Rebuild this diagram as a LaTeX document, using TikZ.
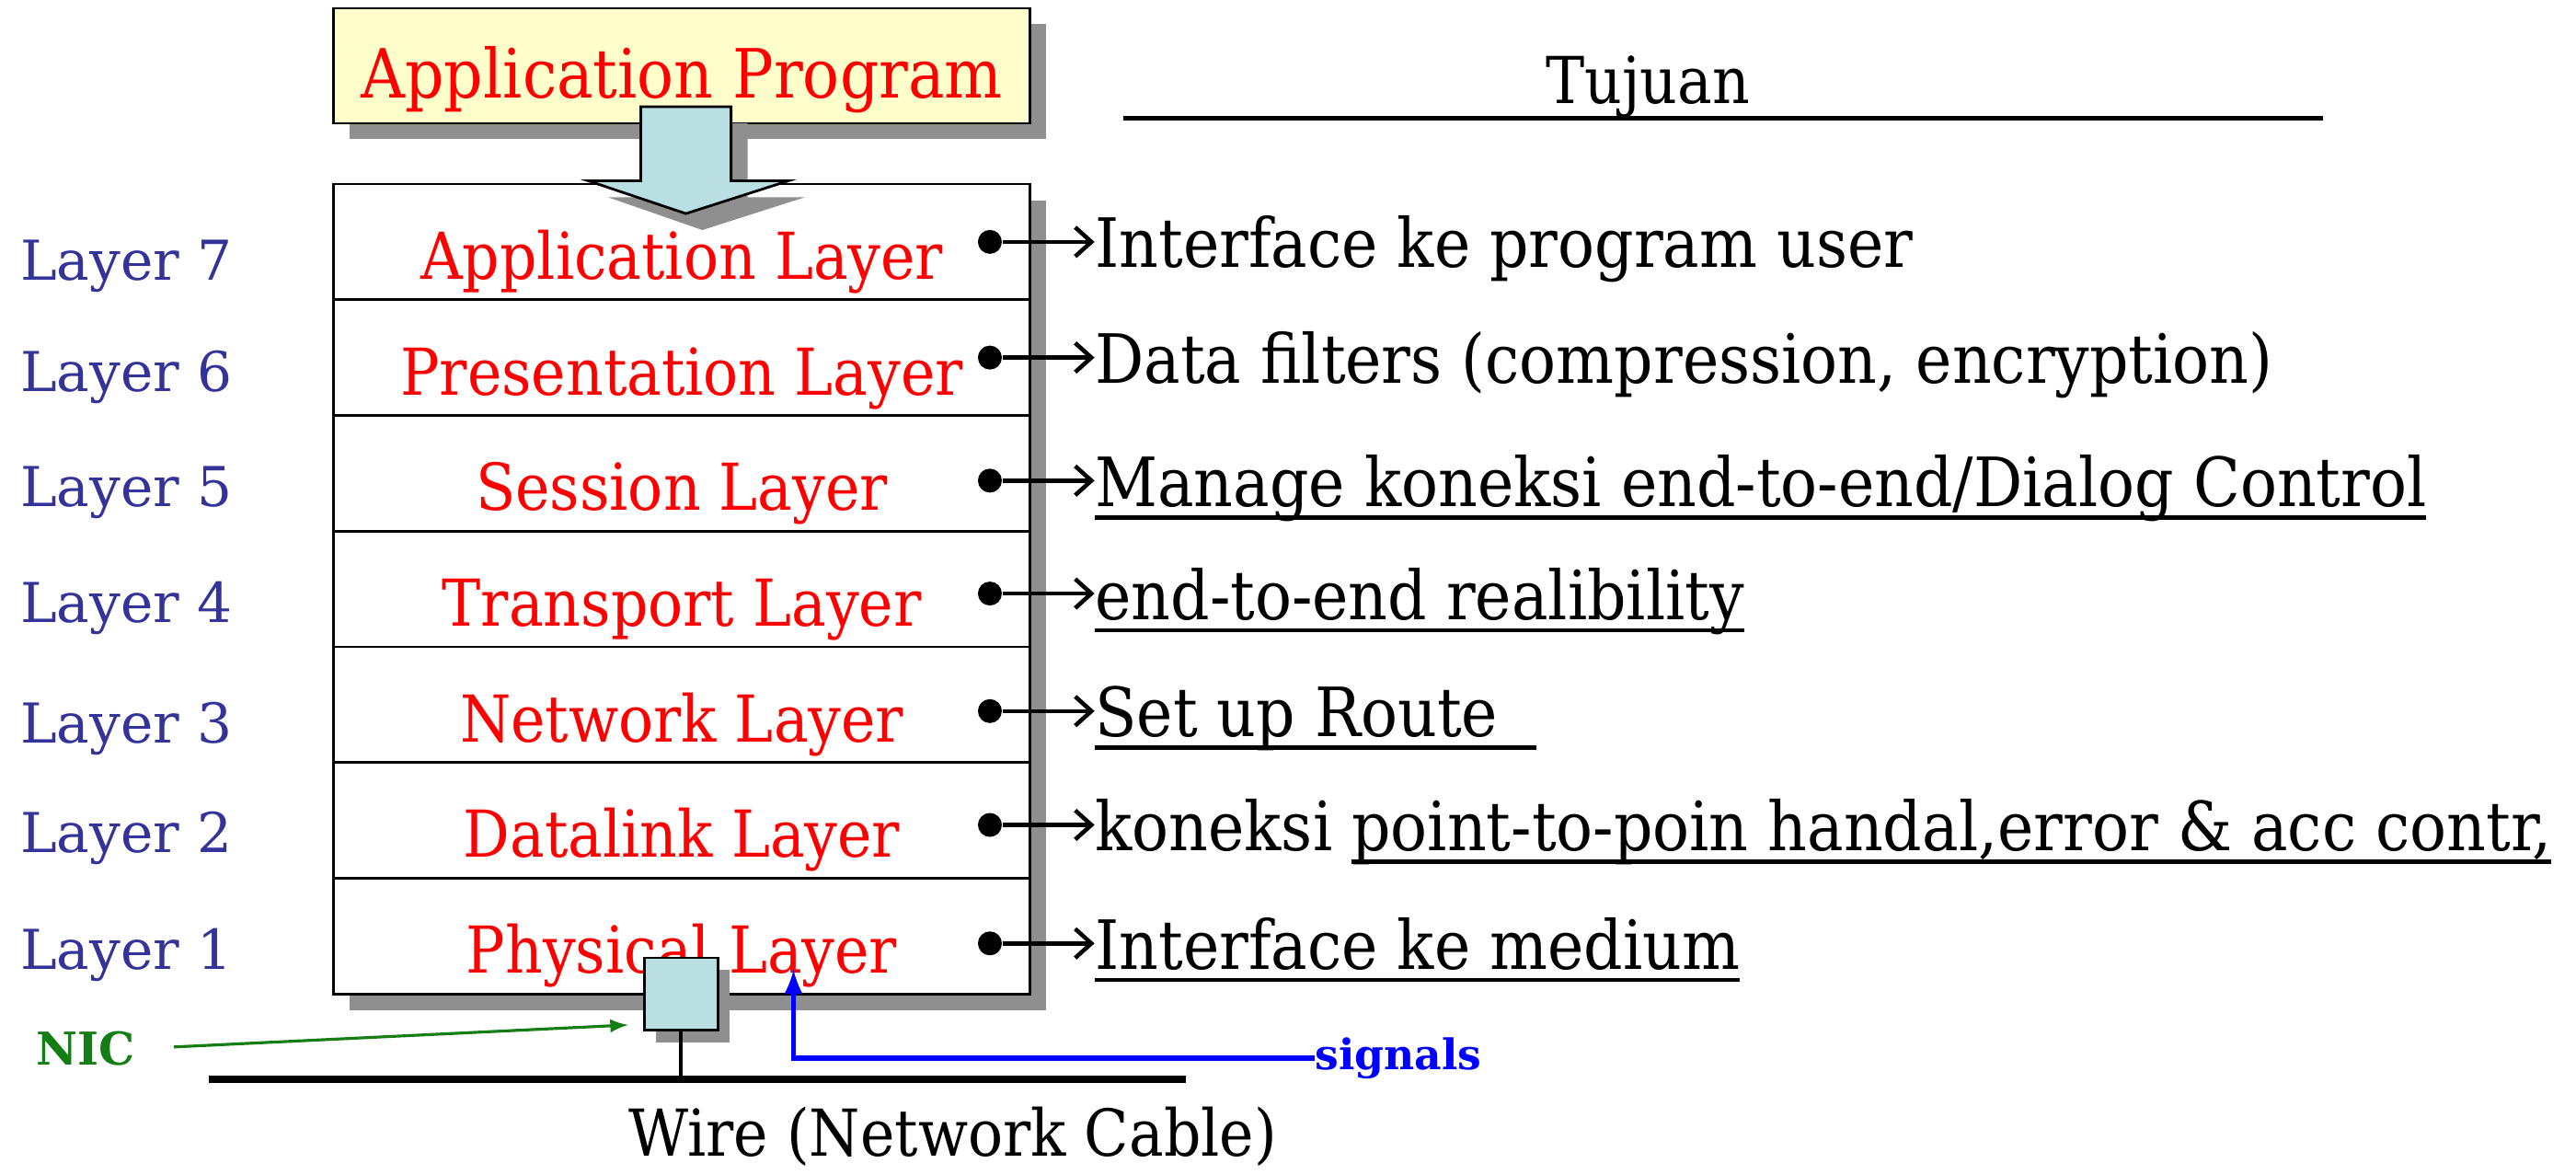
\documentclass[tikz,border=0pt]{standalone}
\usepackage{fontspec}
\setmainfont{DejaVu Serif Condensed}
\newfontfamily\lblfont{DejaVu Serif}
\usetikzlibrary{arrows, arrows.meta, shadows, positioning}

\definecolor{appyellow}{RGB}{255,255,204}
\definecolor{nicblue}{RGB}{185,223,227}
\definecolor{layerblue}{RGB}{51,51,153}
\definecolor{shadowgray}{RGB}{143,143,143}
\definecolor{nicgreen}{RGB}{20,125,20}

\newcommand{\thickul}[1]{\setbox0=\hbox{#1}\rlap{\rule[-4pt]{\wd0}{1.3pt}}\box0}

\tikzset{
  graybox/.style={drop shadow={shadow xshift=0.175cm, shadow yshift=-0.175cm, fill=shadowgray, opacity=1}},
  layerbox/.style={graybox, draw, line width=0.8pt, fill=white, minimum width=7.57cm, minimum height=1.257cm,
    outer sep=0pt, inner sep=0pt, text=red, font=\fontsize{20}{24}\selectfont, text height=23pt, text depth=0pt},
  layerlbl/.style={anchor=west, inner sep=0pt, text=layerblue, font=\lblfont\fontsize{17}{20}\selectfont, text height=18pt, text depth=0pt},
  dot/.style={circle, fill=black, inner sep=0pt, minimum width=0.26cm},
  desc/.style={anchor=west, inner sep=0pt, font=\fontsize{21}{25}\selectfont, text height=16pt, text depth=0pt},
  link/.style={-{Straight Barb[length=5pt, width=9pt]}, line width=1.3pt}
}

\begin{document}
\begin{tikzpicture}[x=0.017857cm, y=-0.017857cm]
  \useasboundingbox (0,0) rectangle (1568,715);

  % program on top
  \node[graybox, draw, line width=0.8pt, fill=appyellow, minimum width=7.57cm, minimum height=1.25cm, text=red,
    font=\fontsize{21}{25}\selectfont, text height=20pt, text depth=0pt] (app) at (415,40) {Application Program};

  % the seven layers
  \node[layerbox] (l7) at (415,147.2) {Application Layer};
  \node[layerbox, below=0pt of l7] (l6) {Presentation Layer};
  \node[layerbox, below=0pt of l6] (l5) {Session Layer};
  \node[layerbox, below=0pt of l5] (l4) {Transport Layer};
  \node[layerbox, below=0pt of l4] (l3) {Network Layer};
  \node[layerbox, below=0pt of l3] (l2) {Datalink Layer};
  \node[layerbox, below=0pt of l2] (l1) {Physical Layer};

  % big arrow from program into the stack
  \fill[shadowgray] (400,75) -- (455,75) -- (455,120) -- (490,120) -- (427.5,140) -- (370,120) -- (400,120) -- cycle;
  \draw[fill=nicblue, line width=0.8pt] (390,65) -- (445,65) -- (445,110) -- (480,110) -- (417.5,130) -- (358,110) -- (390,110) -- cycle;

  % layer numbers
  \coordinate (lx) at (12,0);
  \node[layerlbl] (n7) at ([yshift=-0.1cm]l7 -| lx) {Layer 7};
  \node[layerlbl] (n6) at ([yshift=-0.05cm]l6 -| lx) {Layer 6};
  \node[layerlbl] (n5) at ([yshift=-0.05cm]l5 -| lx) {Layer 5};
  \node[layerlbl] (n4) at ([yshift=-0.05cm]l4 -| lx) {Layer 4};
  \node[layerlbl] (n3) at ([yshift=-0.1cm]l3 -| lx) {Layer 3};
  \node[layerlbl] (n2) at ([yshift=-0.03cm]l2 -| lx) {Layer 2};
  \node[layerlbl] (n1) at ([yshift=-0.05cm]l1 -| lx) {Layer 1};

  % purpose of each layer
  \node at (1003,53) [font=\fontsize{20}{24}\selectfont] (tujuan) {Tujuan};
  \coordinate (tujL) at (684,72);
  \coordinate (tujR) at (1414,72);
  \draw[line width=1.3pt] (tujL) -- (tujR);

  \node[dot, left=0.3cm of l7.east] (d7) {};
  \node[dot, left=0.3cm of l6.east] (d6) {};
  \node[dot, left=0.3cm of l5.east, yshift=-0.08cm] (d5) {};
  \node[dot, left=0.3cm of l4.east, yshift=-0.05cm] (d4) {};
  \node[dot, left=0.3cm of l3.east, yshift=-0.07cm] (d3) {};
  \node[dot, left=0.3cm of l2.east, yshift=-0.05cm] (d2) {};
  \node[dot, left=0.3cm of l1.east, yshift=-0.08cm] (d1) {};

  \node[desc, right=1.0cm of d7] (t7) {Interface ke program user};
  \node[desc, right=1.0cm of d6] (t6) {Data filters (compression, encryption)};
  \node[desc, right=1.0cm of d5] (t5) {\thickul{Manage koneksi end-to-end/Dialog Control}};
  \node[desc, right=1.0cm of d4] (t4) {\thickul{end-to-end realibility}};
  \node[desc, right=1.0cm of d3] (t3) {\thickul{Set up Route\ \ }};
  \node[desc, right=1.0cm of d2] (t2) {koneksi \thickul{point-to-poin handal,error \& acc contr,}};
  \node[desc, right=1.0cm of d1] (t1) {\thickul{Interface ke medium}};

  \foreach \i in {1,...,7}
    \draw[link] (d\i) -- (t\i);

  % network card and cable
  \node[draw, line width=0.8pt, fill=nicblue, minimum width=0.8cm, minimum height=0.786cm, inner sep=0pt,
    drop shadow={shadow xshift=0.13cm, shadow yshift=-0.13cm, fill=shadowgray, opacity=1}] (nic) at (414.5,605) {};
  \coordinate (wireL) at (127,657);
  \coordinate (wireR) at (722,657);
  \draw[line width=2.4pt] (wireL) -- (wireR);
  \draw[line width=1pt] (nic.south) -- (nic.south |- wireL);
  \node[font=\fontsize{20}{24}\selectfont] (wire) at (580,692) {Wire (Network Cable)};

  \node[text=nicgreen, font=\lblfont\bfseries\fontsize{14}{16}\selectfont] (niclbl) at (52,638) {NIC};
  \draw[-latex, nicgreen, line width=0.9pt, shorten <=0.3cm] (niclbl.east) -- ([shift={(-9,-4)}]nic.south west);

  \node[text=blue, font=\lblfont\bfseries\fontsize{13}{16}\selectfont, anchor=west, inner sep=0pt] (sig) at (800,644) {signals};
  \coordinate (sigend) at (483,590);
  \draw[-latex, blue, line width=1.6pt] (sig.west) -| (sigend);
\end{tikzpicture}
\end{document}
